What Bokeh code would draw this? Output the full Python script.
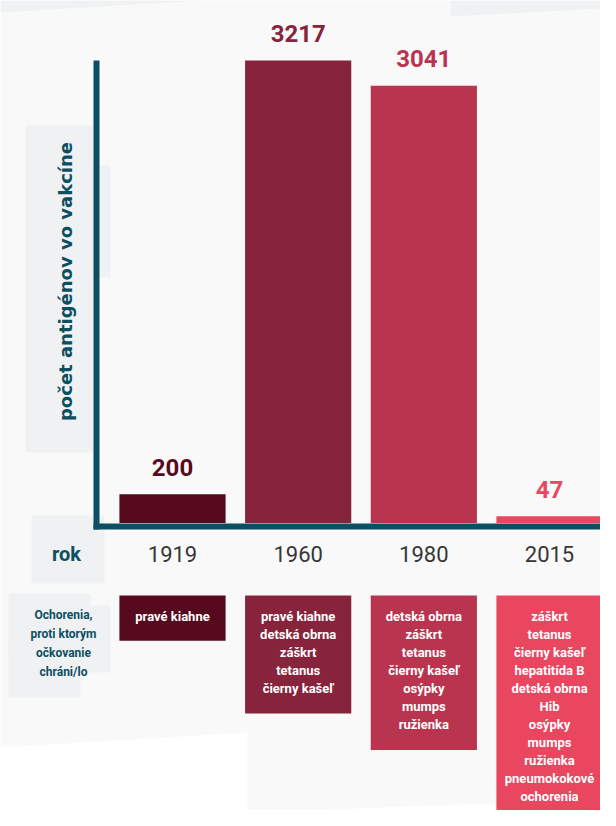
import math
from bokeh.plotting import figure
from bokeh.models import Range1d
from bokeh.core.properties import value
from bokeh.embed import file_html
from bokeh.resources import INLINE

# ---------------- data ----------------
years = ["1919", "1960", "1980", "2015"]
antigens = [200, 3217, 3041, 47]
bar_colors = ["#57091d", "#87243b", "#b9354f", "#e9465f"]
diseases = [
    ["pravé kiahne"],
    ["pravé kiahne", "detská obrna", "záškrt", "tetanus", "čierny kašeľ"],
    ["detská obrna", "záškrt", "tetanus", "čierny kašeľ", "osýpky", "mumps", "ružienka"],
    ["záškrt", "tetanus", "čierny kašeľ", "hepatitída B", "detská obrna", "Hib",
     "osýpky", "mumps", "ružienka", "pneumokokové", "ochorenia"],
]
y_title = "počet antigénov vo vakcíne"
x_title = "rok"
row_title = ["Ochorenia,", "proti ktorým", "očkovanie", "chráni/lo"]

# ---------------- style ----------------
TEAL = "#0c4f60"
BG = "#f9f9fa"
PATCH = "#eff1f3"
FONT = value("Roboto")

W, H = 600, 810
idx = list(range(len(years)))

p = figure(width=W, height=H, output_backend="svg", toolbar_location=None,
           x_range=Range1d(-1.3687, 3.4058), y_range=Range1d(-1999.7, 3634.3),
           x_axis_location=None, y_axis_location=None,
           min_border=0, outline_line_color=None,
           background_fill_color=BG, border_fill_color=BG)
p.grid.visible = False
p.extra_x_ranges = {"px": Range1d(0, 600)}
p.extra_y_ranges = {"px": Range1d(810, 0)}
PX = dict(x_range_name="px", y_range_name="px")

# background decorations
p.patch([0, 200, 0], [0, 0, 12], color=PATCH, line_color=None, **PX)
p.patch([450, 600, 600, 450], [0, 0, 8, 16], color=PATCH, line_color=None, **PX)
p.patch([0, 247, 247, 0], [747, 732, 810, 810], color="#ffffff", line_color=None, **PX)
p.patch([247, 600, 600, 247], [812, 799, 810, 810], color="#ffffff", line_color=None, **PX)
# grey label patches
p.quad(left=[25, 30], right=[93, 110], top=[125, 165], bottom=[452, 277],
       color=PATCH, line_color=None, **PX)
p.quad(left=[31], right=[104], top=[515], bottom=[583], color=PATCH, line_color=None, **PX)
p.quad(left=[8, 18, 8], right=[90, 110, 80], top=[593, 605, 640], bottom=[660, 672, 697],
       color=PATCH, line_color=None, **PX)

# axis lines (L shape)
p.quad(left=[93], right=[99], top=[60], bottom=[529], color=TEAL, line_color=None, **PX)
p.quad(left=[93], right=[600], top=[523], bottom=[529], color=TEAL, line_color=None, **PX)

# bars
p.vbar(x=idx, top=antigens, bottom=0, width=0.845, color=bar_colors, line_color=None)

# value labels
p.text(x=idx, y=antigens, text=[str(v) for v in antigens], text_color=bar_colors,
       text_font=FONT, text_font_style="bold", text_font_size="24px",
       text_align="center", text_baseline="alphabetic", y_offset=-27)

# year labels
p.text(x=idx, y=[553] * len(years), text=years, text_color="#363636",
       text_font=FONT, text_font_size="22px", text_align="center",
       text_baseline="middle", y_range_name="px")

# axis titles
p.text(x=[66], y=[553], text=[x_title], text_color=TEAL, text_font=FONT,
       text_font_style="bold", text_font_size="20px", text_align="center",
       text_baseline="middle", **PX)
p.text(x=[65], y=[281], text=[y_title], text_color=TEAL,
       text_font=value("DejaVu Sans"), text_font_style="bold", text_font_size="18px",
       text_align="center", text_baseline="middle", angle=math.pi / 2, **PX)

# disease boxes
n_lines = [len(d) for d in diseases]
box_bottom = [595 + n * 18.2 + 27 for n in n_lines]
p.vbar(x=idx, top=[595] * len(idx), bottom=box_bottom, width=0.845,
       color=bar_colors, line_color=None, y_range_name="px")
p.text(x=idx, y=[608] * len(idx), text=["\n".join(d) for d in diseases],
       text_color="#ffffff", text_font=FONT, text_font_style="bold",
       text_font_size="13px", text_align="center", text_baseline="top",
       text_line_height=1.2, y_range_name="px")
p.text(x=[63], y=[607], text=["\n".join(row_title)], text_color=TEAL,
       text_font=FONT, text_font_style="bold", text_font_size="12px",
       text_align="center", text_baseline="top", text_line_height=1.38, **PX)

open("out.html", "w").write(file_html(p, INLINE))
